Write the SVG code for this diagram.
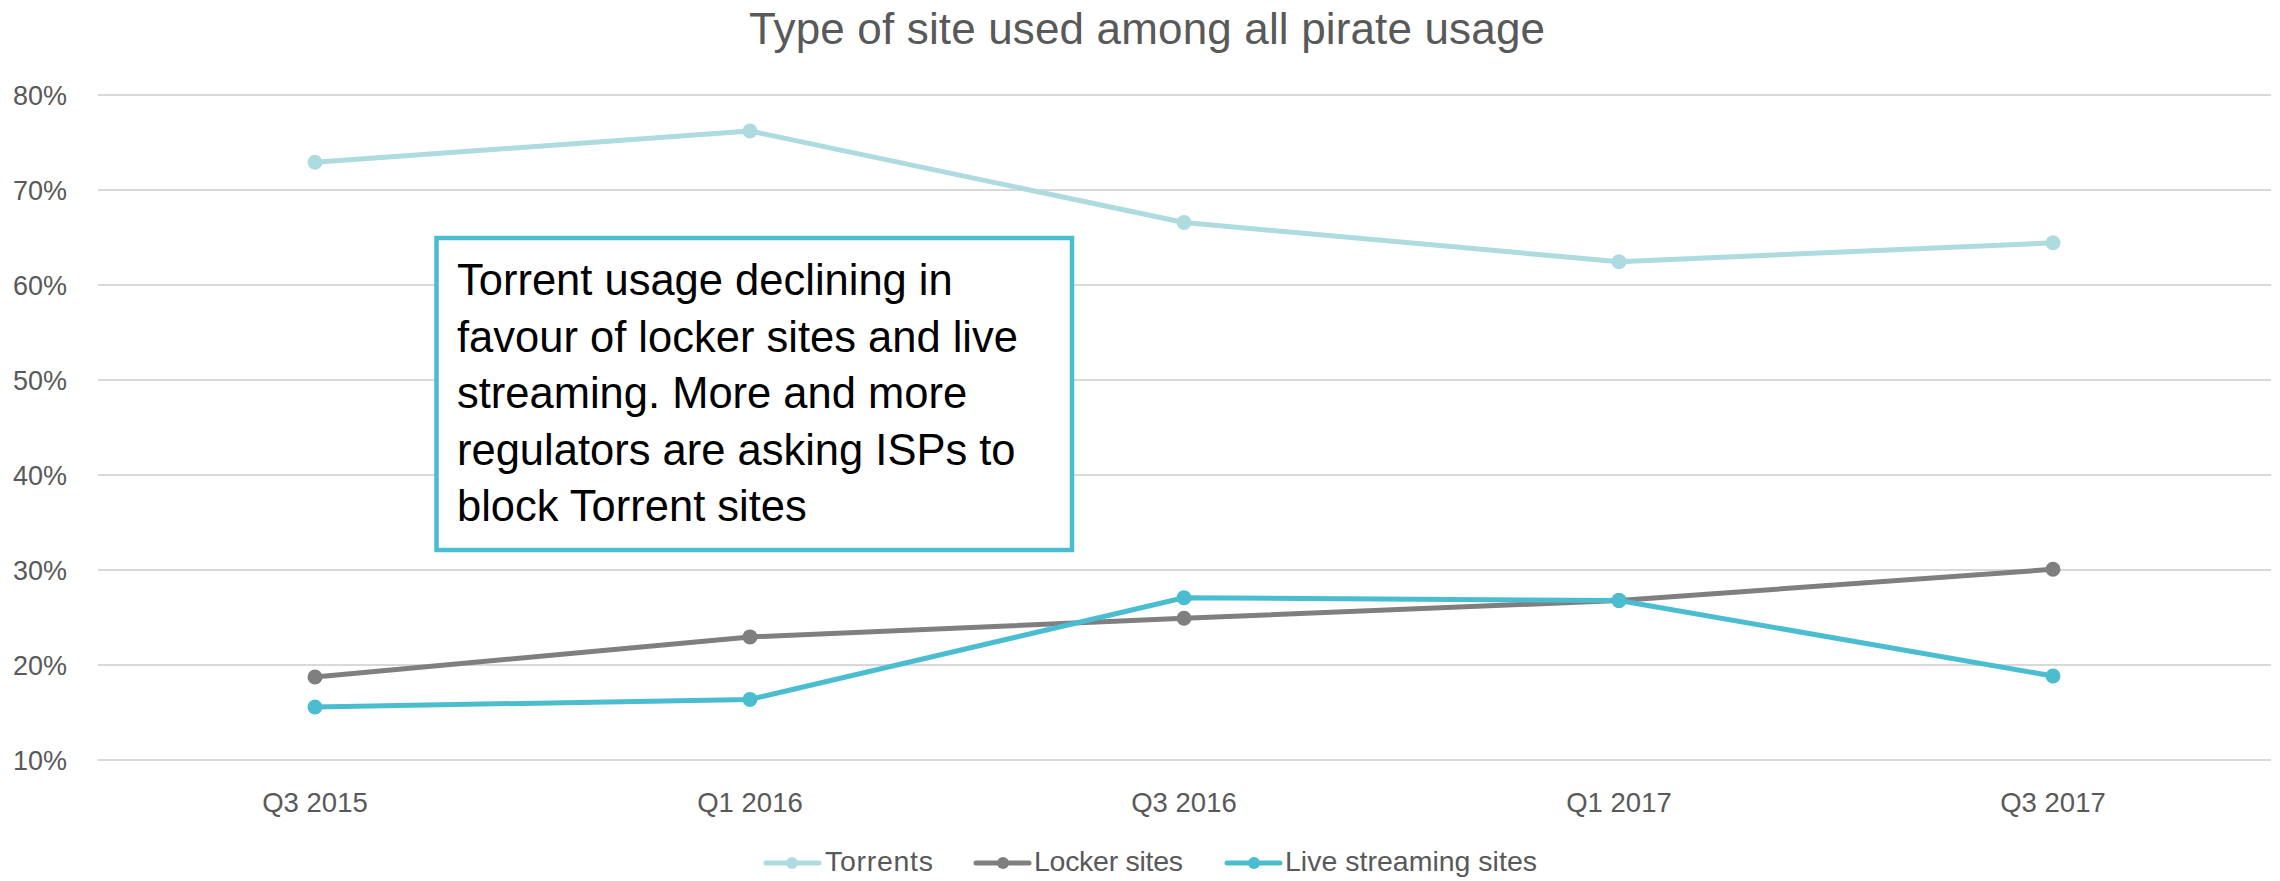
<svg xmlns="http://www.w3.org/2000/svg" width="2280" height="881" viewBox="0 0 2280 881">
<defs>
<style>
text{font-family:"Liberation Sans",Arial,sans-serif;}
.grid{stroke:#D9D9D9;stroke-width:2;}
.ylab{font-size:27px;fill:#595959;text-anchor:end;}
.xlab{font-size:27.5px;fill:#595959;text-anchor:middle;}
.leg{font-size:28.5px;fill:#595959;}
.title{font-size:44px;fill:#595959;text-anchor:middle;}
.note{font-size:43.5px;fill:#000000;}
.ser{fill:none;stroke-width:5;stroke-linejoin:round;stroke-linecap:round;}
.tor{stroke:#ADDBDF;}
.lok{stroke:#7F7F7F;}
.liv{stroke:#4BBDD1;}
.mtor{fill:#ADDBDF;}
.mlok{fill:#7F7F7F;}
.mliv{fill:#4BBDD1;}
</style>
</defs>
<rect x="0" y="0" width="2280" height="881" fill="#FFFFFF"/>
<g id="title">
<text class="title" x="1147" y="44" textLength="796">Type of site used among all pirate usage</text>
</g>
<g id="gridlines">
<line class="grid" x1="98" y1="95" x2="2271" y2="95"/>
<line class="grid" x1="98" y1="190" x2="2271" y2="190"/>
<line class="grid" x1="98" y1="285" x2="2271" y2="285"/>
<line class="grid" x1="98" y1="380" x2="2271" y2="380"/>
<line class="grid" x1="98" y1="475" x2="2271" y2="475"/>
<line class="grid" x1="98" y1="570" x2="2271" y2="570"/>
<line class="grid" x1="98" y1="665" x2="2271" y2="665"/>
<line class="grid" x1="98" y1="760" x2="2271" y2="760"/>
</g>
<g id="y-axis">
<text class="ylab" x="67" y="105">80%</text>
<text class="ylab" x="67" y="200">70%</text>
<text class="ylab" x="67" y="295">60%</text>
<text class="ylab" x="67" y="390">50%</text>
<text class="ylab" x="67" y="485">40%</text>
<text class="ylab" x="67" y="580">30%</text>
<text class="ylab" x="67" y="675">20%</text>
<text class="ylab" x="67" y="770">10%</text>
</g>
<g id="x-axis">
<text class="xlab" x="315" y="812">Q3 2015</text>
<text class="xlab" x="750" y="812">Q1 2016</text>
<text class="xlab" x="1184" y="812">Q3 2016</text>
<text class="xlab" x="1619" y="812">Q1 2017</text>
<text class="xlab" x="2053" y="812">Q3 2017</text>
</g>
<g id="connectors">
<polyline class="ser tor" points="315,162.3 750,131 1184,222.5 1619,261.7 2053,242.8"/>
<polyline class="ser lok" points="315,677 750,636.9 1184,618.3 1619,600.5 2053,569.3"/>
<polyline class="ser liv" points="315,707 750,699.4 1184,597.7 1619,600.5 2053,676"/>
</g>
<g id="series-torrents">
<circle class="mtor" cx="315" cy="162.3" r="7.5"/>
<circle class="mtor" cx="750" cy="131" r="7.5"/>
<circle class="mtor" cx="1184" cy="222.5" r="7.5"/>
<circle class="mtor" cx="1619" cy="261.7" r="7.5"/>
<circle class="mtor" cx="2053" cy="242.8" r="7.5"/>
</g>
<g id="series-locker">
<circle class="mlok" cx="315" cy="677" r="7.5"/>
<circle class="mlok" cx="750" cy="636.9" r="7.5"/>
<circle class="mlok" cx="1184" cy="618.3" r="7.5"/>
<circle class="mlok" cx="1619" cy="600.5" r="7.5"/>
<circle class="mlok" cx="2053" cy="569.3" r="7.5"/>
</g>
<g id="series-live">
<circle class="mliv" cx="315" cy="707" r="7.5"/>
<circle class="mliv" cx="750" cy="699.4" r="7.5"/>
<circle class="mliv" cx="1184" cy="597.7" r="7.5"/>
<circle class="mliv" cx="1619" cy="600.5" r="7.5"/>
<circle class="mliv" cx="2053" cy="676" r="7.5"/>
</g>
<g id="annotation">
<rect x="436.5" y="238" width="635.5" height="312" fill="#FFFFFF" stroke="#4BBDD1" stroke-width="4.5"/>
<text class="note" x="457" y="295">Torrent usage declining in</text>
<text class="note" x="457" y="351.5">favour of locker sites and live</text>
<text class="note" x="457" y="408">streaming. More and more</text>
<text class="note" x="457" y="464.5">regulators are asking ISPs to</text>
<text class="note" x="457" y="521">block Torrent sites</text>
</g>
<g id="legend">
<line class="ser tor" x1="766" y1="863" x2="819" y2="863"/>
<circle class="mtor" cx="792" cy="863" r="6"/>
<text class="leg" x="825" y="871" textLength="108">Torrents</text>
<line class="ser lok" x1="976" y1="863" x2="1029" y2="863"/>
<circle class="mlok" cx="1003" cy="863" r="6"/>
<text class="leg" x="1034" y="871" textLength="149">Locker sites</text>
<line class="ser liv" x1="1227" y1="863" x2="1280" y2="863"/>
<circle class="mliv" cx="1254" cy="863" r="6"/>
<text class="leg" x="1285" y="871" textLength="252">Live streaming sites</text>
</g>
</svg>
